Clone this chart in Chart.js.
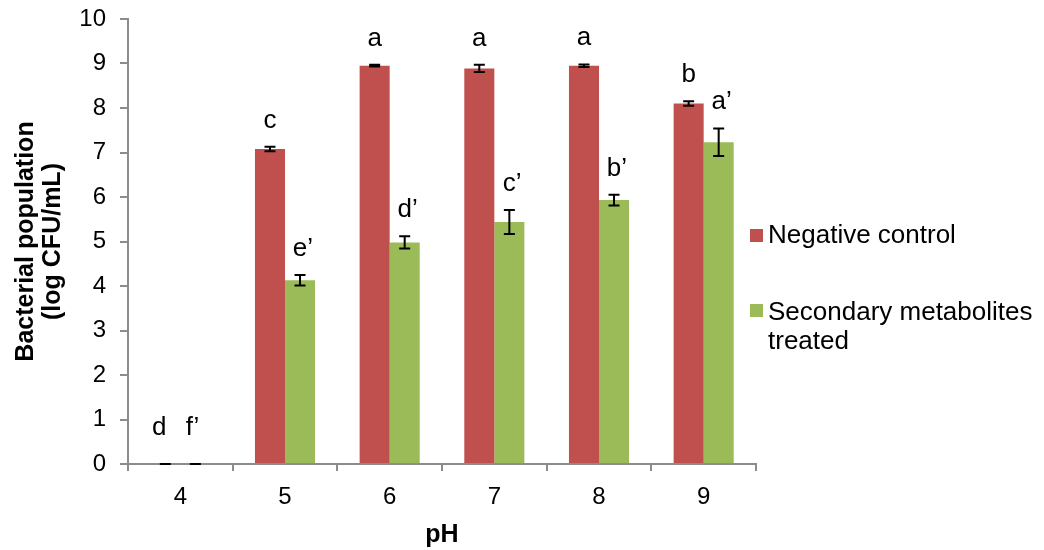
<!DOCTYPE html>
<html>
<head>
<meta charset="utf-8">
<script src="https://cdn.jsdelivr.net/npm/chart.js@4.4.0/dist/chart.umd.min.js"></script>
<style>
  html, body { margin: 0; padding: 0; background: #fff; }
  #wrap { width: 1044px; height: 550px; position: relative; }
</style>
</head>
<body>
<div id="wrap"><canvas id="c" width="1044" height="550"></canvas></div>
<script>
const categories = ['4', '5', '6', '7', '8', '9'];
const negativeValues = [0, 7.08, 8.95, 8.89, 8.95, 8.10];
const negativeErrors = [0, 0.05, 0.02, 0.08, 0.03, 0.05];
const treatedValues = [0, 4.13, 4.98, 5.44, 5.93, 7.23];
const treatedErrors = [0, 0.12, 0.14, 0.27, 0.12, 0.31];
const negativeLetters = ['d', 'c', 'a', 'a', 'a', 'b'];
const treatedLetters = ['f', 'e', 'd', 'c', 'b', 'a'];
const treatedMark = '\u2019';
const yTicks = [0, 1, 2, 3, 4, 5, 6, 7, 8, 9, 10];
const seriesNames = ['Negative control', ['Secondary metabolites', 'treated']];

const RED = '#C0504D';
const GREEN = '#9BBB59';
const AXIS = '#8C8C8C';
const FONT = "'Liberation Sans', Arial, sans-serif";

const errorBarPlugin = {
  id: 'errorBars',
  afterDatasetsDraw(chart) {
    const ctx = chart.ctx;
    const y = chart.scales.y;
    ctx.save();
    chart.data.datasets.forEach((ds, di) => {
      const meta = chart.getDatasetMeta(di);
      meta.data.forEach((bar, i) => {
        const v = ds.data[i];
        const e = ds.errors[i];
        const x = bar.x;
        const yTop = y.getPixelForValue(v + e);
        const yBot = y.getPixelForValue(v - e);
        ctx.strokeStyle = '#000';
        ctx.lineWidth = 2;
        ctx.beginPath();
        if (yBot - yTop > 0.5) {
          ctx.moveTo(x, yTop); ctx.lineTo(x, yBot);
        }
        ctx.moveTo(x - 5.5, yTop); ctx.lineTo(x + 5.5, yTop);
        ctx.moveTo(x - 5.5, yBot); ctx.lineTo(x + 5.5, yBot);
        ctx.stroke();
        // significance letters
        ctx.fillStyle = '#000';
        ctx.font = '26px ' + FONT;
        ctx.textAlign = 'left';
        ctx.textBaseline = 'alphabetic';
        const base = ds.letters[i];
        const w = ctx.measureText(base).width;
        const shift = v === 0 ? -6 : 0;
        const extra = v === 0 ? 10 : 0;
        const txt = di === 1 ? base + treatedMark : base;
        ctx.fillText(txt, x - w / 2 + shift, yTop - 19 - extra);
      });
    });
    ctx.restore();
  }
};

const legendPlugin = {
  id: 'customLegend',
  afterDraw(chart) {
    const ctx = chart.ctx;
    ctx.save();
    ctx.font = '26px ' + FONT;
    ctx.textBaseline = 'alphabetic';
    ctx.textAlign = 'left';
    ctx.fillStyle = RED;
    ctx.fillRect(750, 229, 13, 13);
    ctx.fillStyle = '#000';
    ctx.fillText(seriesNames[0], 768, 243);
    ctx.fillStyle = GREEN;
    ctx.fillRect(750, 304, 13, 13);
    ctx.fillStyle = '#000';
    ctx.fillText(seriesNames[1][0], 768, 320);
    ctx.fillText(seriesNames[1][1], 768, 349);
    ctx.restore();
  }
};

new Chart(document.getElementById('c'), {
  type: 'bar',
  data: {
    labels: categories,
    datasets: [
      { label: 'Negative control', data: negativeValues, errors: negativeErrors, letters: negativeLetters,
        backgroundColor: RED, borderWidth: 0, categoryPercentage: 0.574, barPercentage: 1.0 },
      { label: 'Secondary metabolites treated', data: treatedValues, errors: treatedErrors, letters: treatedLetters,
        backgroundColor: GREEN, borderWidth: 0, categoryPercentage: 0.574, barPercentage: 1.0 }
    ]
  },
  options: {
    responsive: false,
    animation: false,
    devicePixelRatio: 1,
    layout: { padding: { top: 19, right: 288, left: 0, bottom: 0 } },
    plugins: { legend: { display: false }, tooltip: { enabled: false } },
    scales: {
      x: {
        offset: true,
        grid: { display: true, drawOnChartArea: false, color: AXIS, tickLength: 7, offset: true, lineWidth: 2 },
        border: { display: true, color: AXIS, width: 2 },
        ticks: { color: '#000', font: { family: FONT, size: 24 }, padding: 12 },
        title: { display: true, text: 'pH', color: '#000', font: { family: FONT, size: 25, weight: 'bold' }, padding: { top: 2, bottom: 0 } },
        afterFit(scale) { scale.height = 86; scale.paddingLeft = 0; scale.paddingRight = 0; }
      },
      y: {
        min: 0, max: 10,
        afterBuildTicks(scale) { scale.ticks = yTicks.map(v => ({ value: v })); },
        grid: { display: true, drawOnChartArea: false, color: AXIS, tickLength: 8, lineWidth: 2 },
        border: { display: true, color: AXIS, width: 2 },
        ticks: { color: '#000', font: { family: FONT, size: 24 }, padding: 14 },
        title: { display: true, text: ['Bacterial population', '(log CFU/mL)'], color: '#000',
                 font: { family: FONT, size: 25, weight: 'bold', lineHeight: 1.1 }, padding: { top: 12, bottom: 0 } },
        afterFit(scale) { scale.width = 128; scale.paddingTop = 0; scale.paddingBottom = 0; }
      }
    }
  },
  plugins: [errorBarPlugin, legendPlugin]
});
</script>
</body>
</html>
